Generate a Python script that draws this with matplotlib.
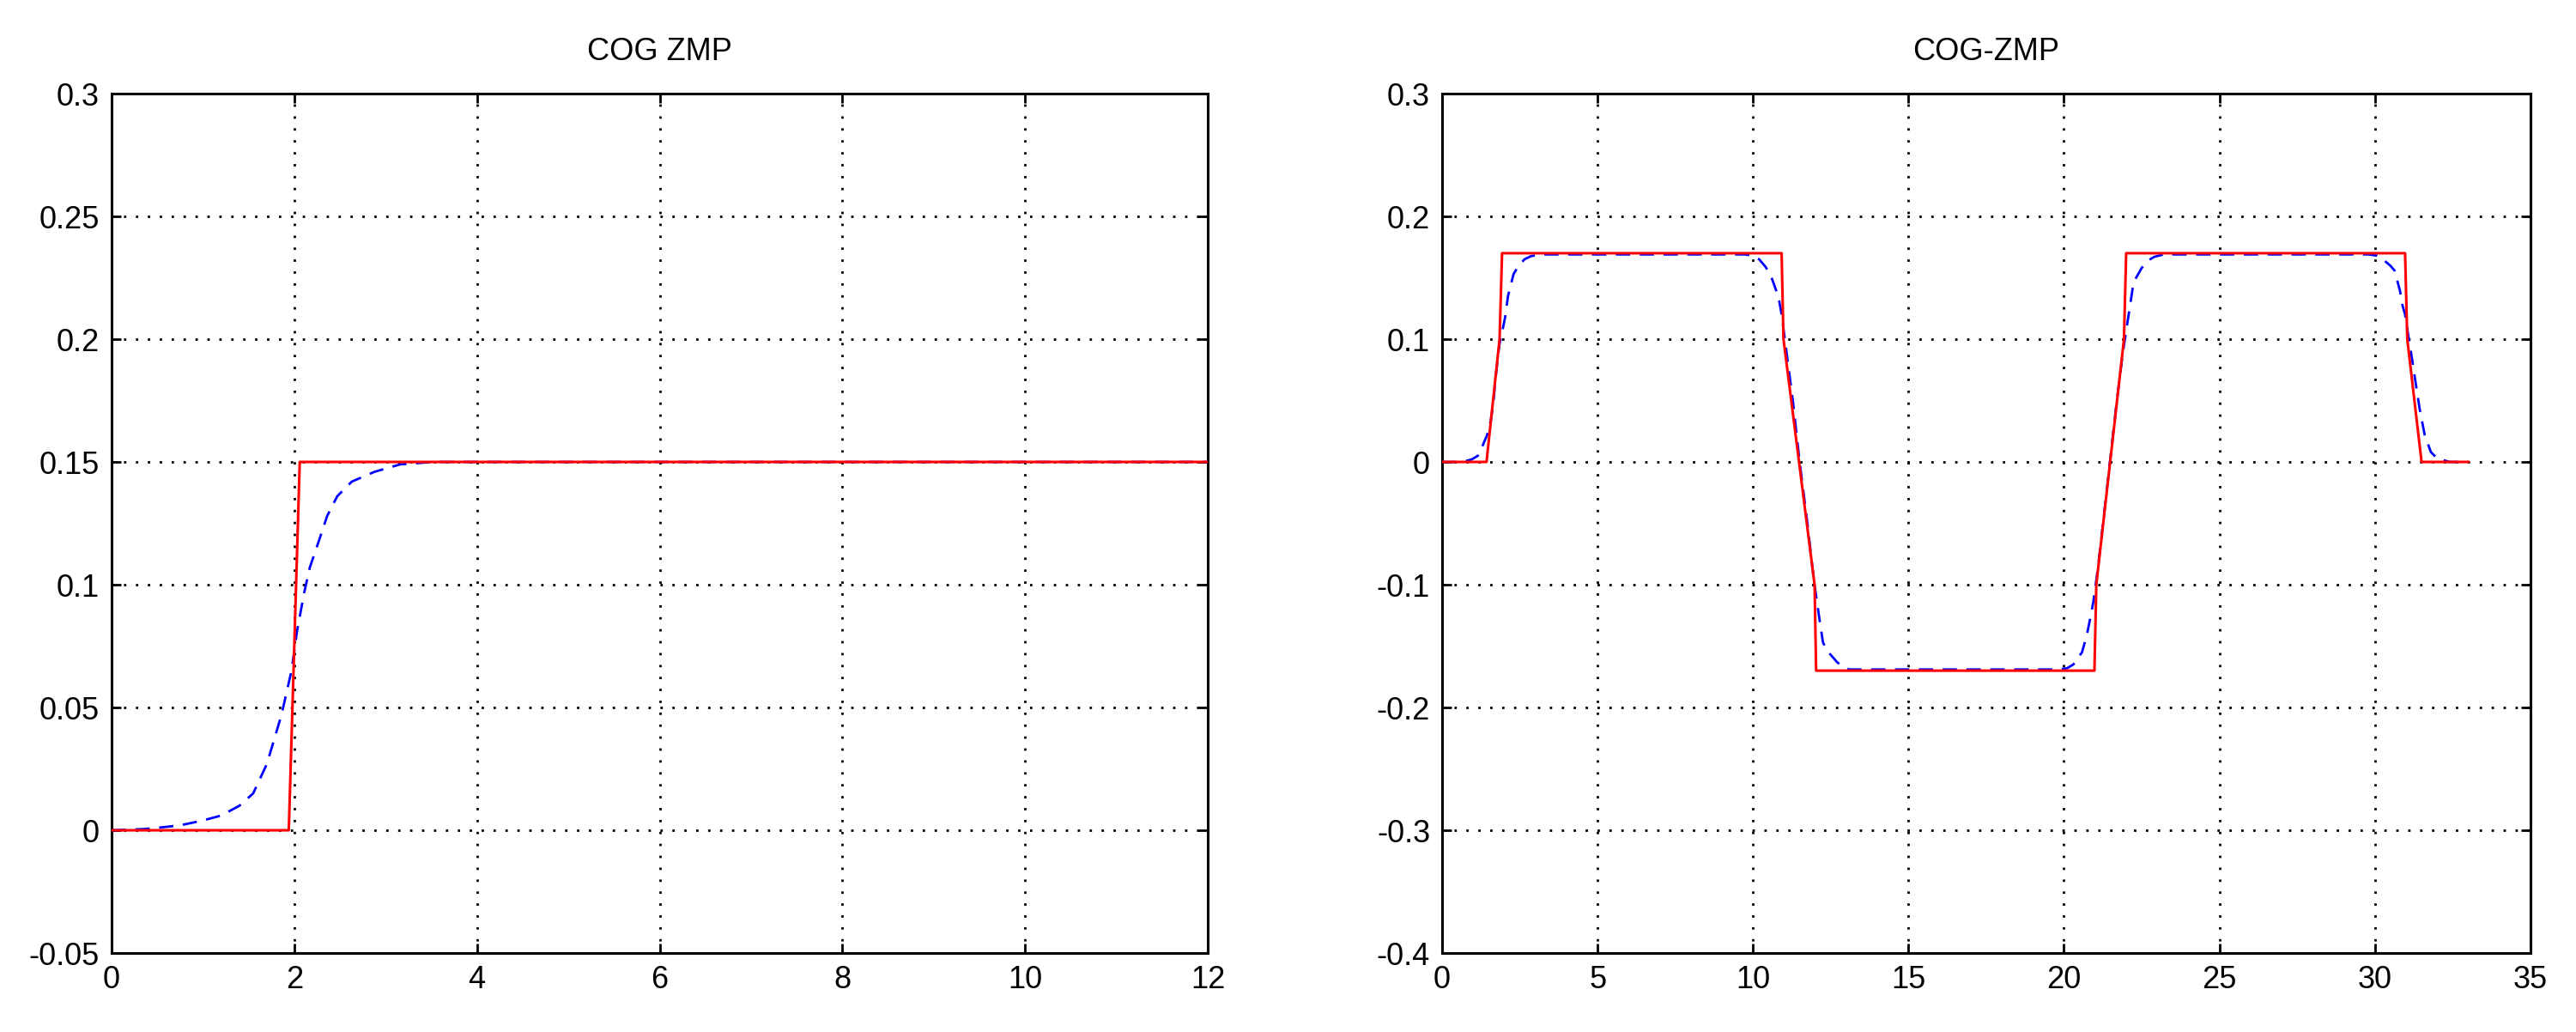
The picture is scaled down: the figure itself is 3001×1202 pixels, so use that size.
import matplotlib
matplotlib.use('Agg')
import matplotlib.pyplot as plt
from matplotlib.ticker import FuncFormatter

# left panel: COG ZMP (step input)
leftRefT = [0.0, 1.94, 2.06, 12.0]
leftRefY = [0.0, 0.0, 0.15, 0.15]
leftCogT = [0.0, 0.35, 0.5, 0.75, 1.0, 1.2, 1.4, 1.55, 1.7, 1.86, 1.97, 2.03, 2.11,
            2.17, 2.28, 2.36, 2.47, 2.63, 2.88, 3.16, 3.52, 12.0]
leftCogY = [0.0, 0.0005, 0.001, 0.002, 0.004, 0.006, 0.010, 0.015, 0.027, 0.047, 0.065,
            0.081, 0.097, 0.107, 0.119, 0.128, 0.136, 0.142, 0.146, 0.149, 0.15, 0.15]
leftXTicks = [0, 2, 4, 6, 8, 10, 12]
leftYTicks = [-0.05, 0, 0.05, 0.1, 0.15, 0.2, 0.25, 0.3]

# right panel: COG-ZMP (walking pattern)
rightRefT = [0.0, 1.43, 1.85, 1.93, 10.92, 10.98, 11.98, 12.03, 20.98, 21.04, 21.93,
             22.0, 30.97, 31.04, 31.5, 33.0]
rightRefY = [0.0, 0.0, 0.1, 0.17, 0.17, 0.1, -0.1, -0.17, -0.17, -0.1, 0.1,
             0.17, 0.17, 0.1, 0.0, 0.0]
rightCogT = [0.0, 0.55, 0.8, 0.95, 1.15, 1.3, 1.45, 1.57, 1.65, 1.72, 1.84, 1.95, 2.03,
             2.12, 2.3, 2.44, 2.65, 2.85, 3.13,
             9.75, 10.0, 10.2, 10.4, 10.57, 10.74, 10.83, 10.92, 11.05, 11.29, 11.5,
             11.75, 11.95, 12.12, 12.25, 12.39, 12.53, 12.7, 12.9, 13.1,
             19.8, 20.1, 20.3, 20.58, 20.67, 20.76, 20.88, 20.95, 21.1, 21.3, 21.5,
             21.7, 21.9, 22.05, 22.13, 22.23, 22.32, 22.5, 22.7, 22.9, 23.2,
             29.8, 30.07, 30.21, 30.35, 30.49, 30.63, 30.81, 30.86, 30.97, 31.11, 31.2,
             31.3, 31.44, 31.6, 31.8, 32.0, 32.4, 33.0]
rightCogY = [0.0, 0.0, 0.001, 0.002, 0.005, 0.013, 0.022, 0.034, 0.048, 0.068, 0.095,
             0.108, 0.118, 0.135, 0.153, 0.159, 0.165, 0.1675, 0.169,
             0.169, 0.168, 0.165, 0.159, 0.152, 0.14, 0.133, 0.12, 0.095, 0.048, 0.0,
             -0.05, -0.095, -0.125, -0.147, -0.154, -0.158, -0.163, -0.167, -0.169,
             -0.169, -0.168, -0.165, -0.155, -0.147, -0.138, -0.123, -0.113, -0.085,
             -0.04, 0.005, 0.05, 0.09, 0.115, 0.128, 0.145, 0.15, 0.158, 0.164, 0.167,
             0.169,
             0.169, 0.168, 0.166, 0.163, 0.16, 0.156, 0.139, 0.13, 0.12, 0.097, 0.083,
             0.066, 0.043, 0.022, 0.008, 0.003, 0.0, 0.0]
rightXTicks = [0, 5, 10, 15, 20, 25, 30, 35]
rightYTicks = [-0.4, -0.3, -0.2, -0.1, 0, 0.1, 0.2, 0.3]

plt.rcParams['font.family'] = ['Liberation Sans Narrow', 'Liberation Sans', 'DejaVu Sans']
plt.rcParams['axes.unicode_minus'] = False


def fmt(v, pos):
    s = '%g' % round(v, 6)
    return '0' if s == '-0' else s


def drawPanel(ax, cogT, cogY, refT, refY, xTicks, yTicks, title):
    ax.plot(cogT, cogY, color='#0000ff', lw=2.0, dashes=(6, 4), zorder=3)
    ax.plot(refT, refY, color='#ff0000', lw=2.2, zorder=4)
    ax.set_xlim(xTicks[0], xTicks[-1])
    ax.set_ylim(yTicks[0], yTicks[-1])
    ax.set_xticks(xTicks)
    ax.set_yticks(yTicks)
    ax.xaxis.set_major_formatter(FuncFormatter(fmt))
    ax.yaxis.set_major_formatter(FuncFormatter(fmt))
    ax.grid(True, color='black', lw=2.0, linestyle=(0, (1, 4)))
    ax.set_axisbelow(True)
    ax.tick_params(direction='in', length=8, width=2.0, labelsize=26,
                   top=True, right=True, pad=10)
    for sp in ax.spines.values():
        sp.set_linewidth(2.2)
    ax.set_title(title, fontsize=26, pad=28)


fig = plt.figure(figsize=(30.01, 12.02), dpi=100, facecolor='white')
axL = fig.add_axes([0.0433, 0.0765, 0.4256, 0.8328])
axR = fig.add_axes([0.5598, 0.0765, 0.4225, 0.8328])
drawPanel(axL, leftCogT, leftCogY, leftRefT, leftRefY, leftXTicks, leftYTicks, 'COG ZMP')
drawPanel(axR, rightCogT, rightCogY, rightRefT, rightRefY, rightXTicks, rightYTicks, 'COG-ZMP')
fig.savefig('out.png', dpi=100, facecolor='white')
